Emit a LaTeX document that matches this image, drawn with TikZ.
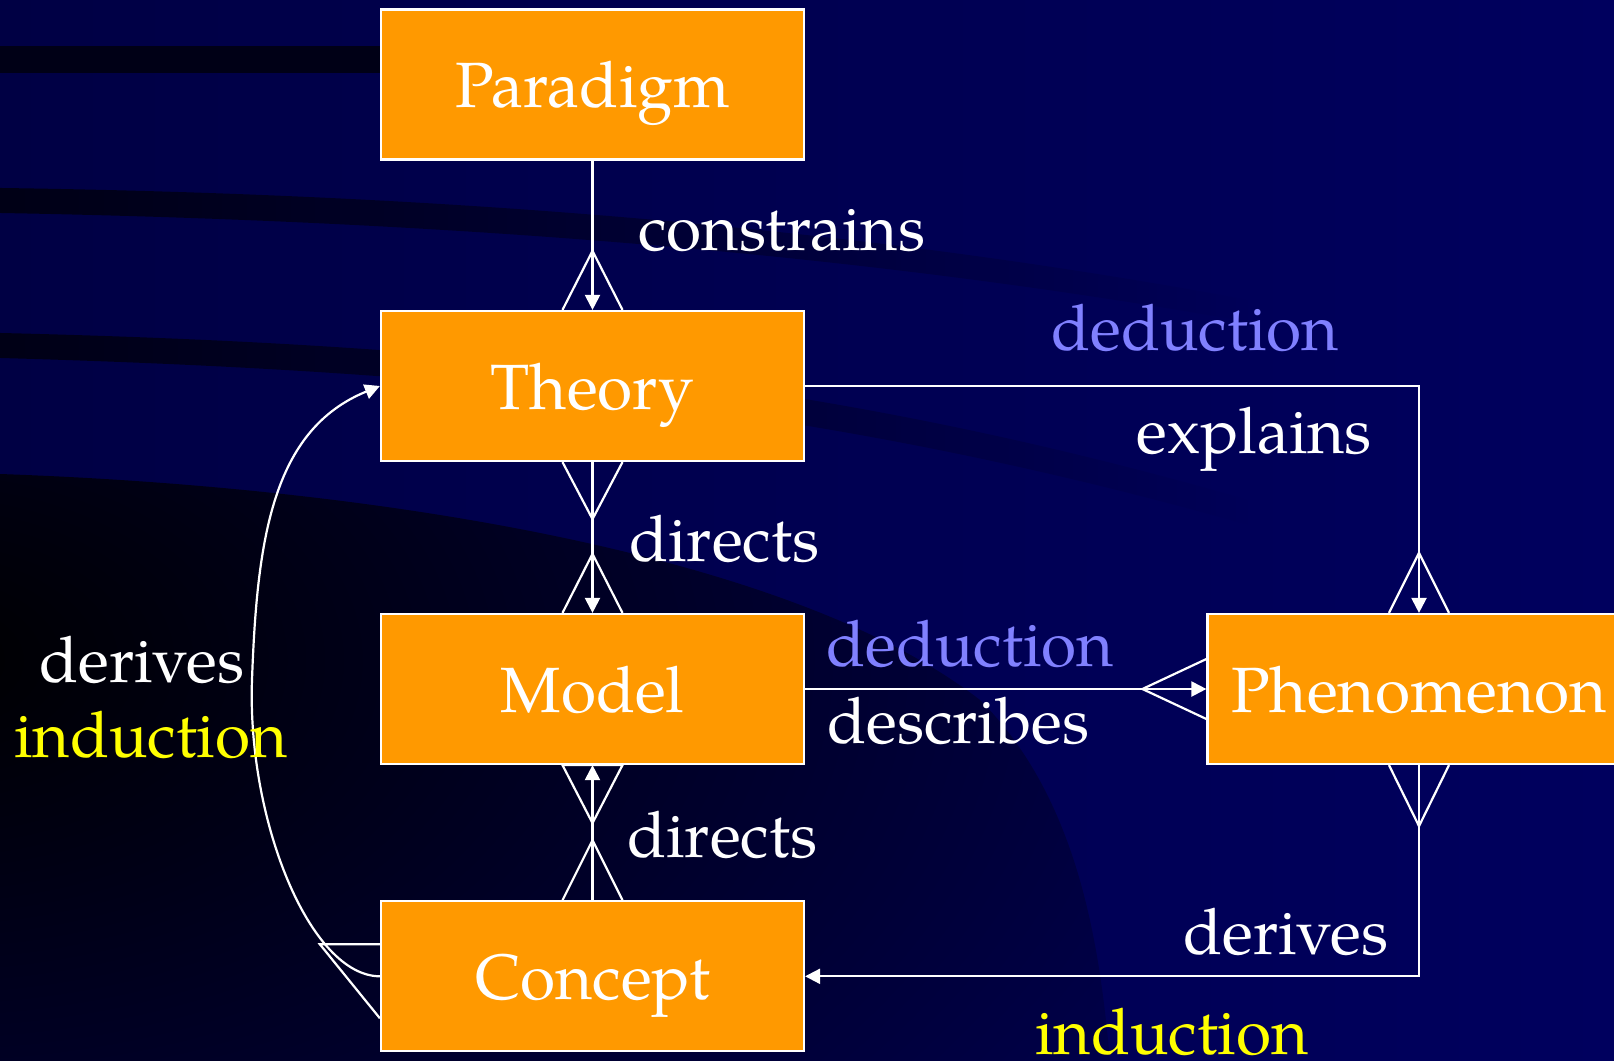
\documentclass[tikz,border=0pt]{standalone}
\usepackage{fontspec}
\setmainfont{TeX Gyre Pagella}
\usetikzlibrary{calc,arrows.meta,fadings}
\definecolor{bgL}{HTML}{000044}
\definecolor{bgR}{HTML}{00005E}
\definecolor{stripec}{HTML}{000016}
\definecolor{boxor}{HTML}{FF9900}
\definecolor{ded}{HTML}{8080FF}
\definecolor{ind}{HTML}{FFFF00}
\tikzfading[name=fadeR, left color=transparent!0, middle color=transparent!35, right color=transparent!100]
\begin{document}
\begin{tikzpicture}[x=0.5pt,y=-0.5pt,
  box/.style={draw=white, line width=1.1pt, fill=boxor, text=white,
    minimum width=211.5pt, minimum height=75pt, inner sep=0pt,
    font=\fontsize{32}{38}\selectfont, text height=30pt, text depth=7pt},
  lbl/.style={anchor=base west, inner sep=0pt, text=white, font=\fontsize{32}{38}\selectfont},
  conn/.style={draw=white, line width=1.1pt},
  arr/.style={-{Triangle[length=7.5pt,width=7.5pt]}},
  crow/.style={draw=white, line width=1.1pt, line join=miter}
]
\useasboundingbox (0,0) rectangle (1614,1061);
% background
\shade[left color=bgL, right color=bgR] (0,0) rectangle (1614,1061);
\begin{scope}
  \clip (0,474) .. controls (400,488) and (800,560) .. (980,700)
        .. controls (1080,800) and (1100,950) .. (1110,1061) -- (0,1061) -- cycle;
  \shade[inner color=black, outer color=bgL!55!bgR] (-80,660) ellipse (1500 and 900);
\end{scope}
\fill[stripec] (0,46) rectangle (420,73);
\fill[stripec, path fading=fadeR] (0,188) .. controls (500,195) and (900,235) .. (1250,300)
   -- (1250,322) .. controls (900,260) and (500,222) .. (0,213) -- cycle;
\fill[stripec, path fading=fadeR] (0,333) .. controls (500,345) and (850,385) .. (1250,500)
   -- (1250,525) .. controls (850,412) and (500,372) .. (0,358) -- cycle;

% boxes
\node[box] (P) at (592.5,84.5) {Paradigm};
\node[box] (T) at (592.5,386) {Theory};
\node[box] (M) at (592.5,689) {Model};
\node[box] (C) at (592.5,976.3) {Concept};
\node[box] (Ph) at (1419,689) {Phenomenon};

% connectors
\draw[conn, arr] (P.south) -- (T.north);
\draw[crow] ($(T.north)+(-30,0)$) -- ($(T.north)+(0,-59)$) -- ($(T.north)+(30,0)$);

\draw[conn, arr] (T.south) -- (M.north);
\draw[crow] ($(T.south)+(-30,0)$) -- ($(T.south)+(0,57)$) -- ($(T.south)+(30,0)$);
\draw[crow] ($(M.north)+(-30,0)$) -- ($(M.north)+(0,-59)$) -- ($(M.north)+(30,0)$);

\draw[conn, arr] (C.north) -- (M.south);
\draw[crow] ($(M.south)+(-30,0)$) -- ($(M.south)+(0,58)$) -- ($(M.south)+(30,0)$) -- cycle;
\draw[crow] ($(C.north)+(-30,0)$) -- ($(C.north)+(0,-60)$) -- ($(C.north)+(30,0)$);

\draw[conn, arr] (T.east) -| (Ph.north);
\draw[crow] ($(Ph.north)+(-30,0)$) -- ($(Ph.north)+(0,-60)$) -- ($(Ph.north)+(30,0)$);

\draw[conn, arr] (M.east) -- (Ph.west);
\draw[crow] ($(Ph.west)+(0,-30)$) -- ($(Ph.west)+(-64,0)$) -- ($(Ph.west)+(0,30)$);

\draw[conn, arr] (Ph.south) |- (C.east);
\draw[crow] ($(Ph.south)+(-30,0)$) -- ($(Ph.south)+(0,61)$) -- ($(Ph.south)+(30,0)$);

\draw[conn, arr] (C.west) .. controls (310,976) and (247,820) .. (252,680)
   .. controls (257,540) and (272,430) .. (T.west);
\draw[crow] ($(C.west)+(0,-32)$) -- ($(C.west)+(-60,-32)$) -- ($(C.west)+(0,42)$);

% labels
\node[lbl] (l1) at (638,250) {constrains};
\node[lbl, text=ded] (l2) at (1051,350) {deduction};
\node[lbl] (l3) at (1136,453) {explains};
\node[lbl] (l4) at (629,561) {directs};
\node[lbl, text=ded] (l5) at (826,666) {deduction};
\node[lbl] (l6) at (827,743) {describes};
\node[lbl] (l7) at (39,682) {derives};
\node[lbl, text=ind] (l8) at (14,757) {induction};
\node[lbl] (l9) at (627,857) {directs};
\node[lbl] (l10) at (1183,954) {derives};
\node[lbl, text=ind] (l11) at (1035,1054) {induction};
\end{tikzpicture}
\end{document}
